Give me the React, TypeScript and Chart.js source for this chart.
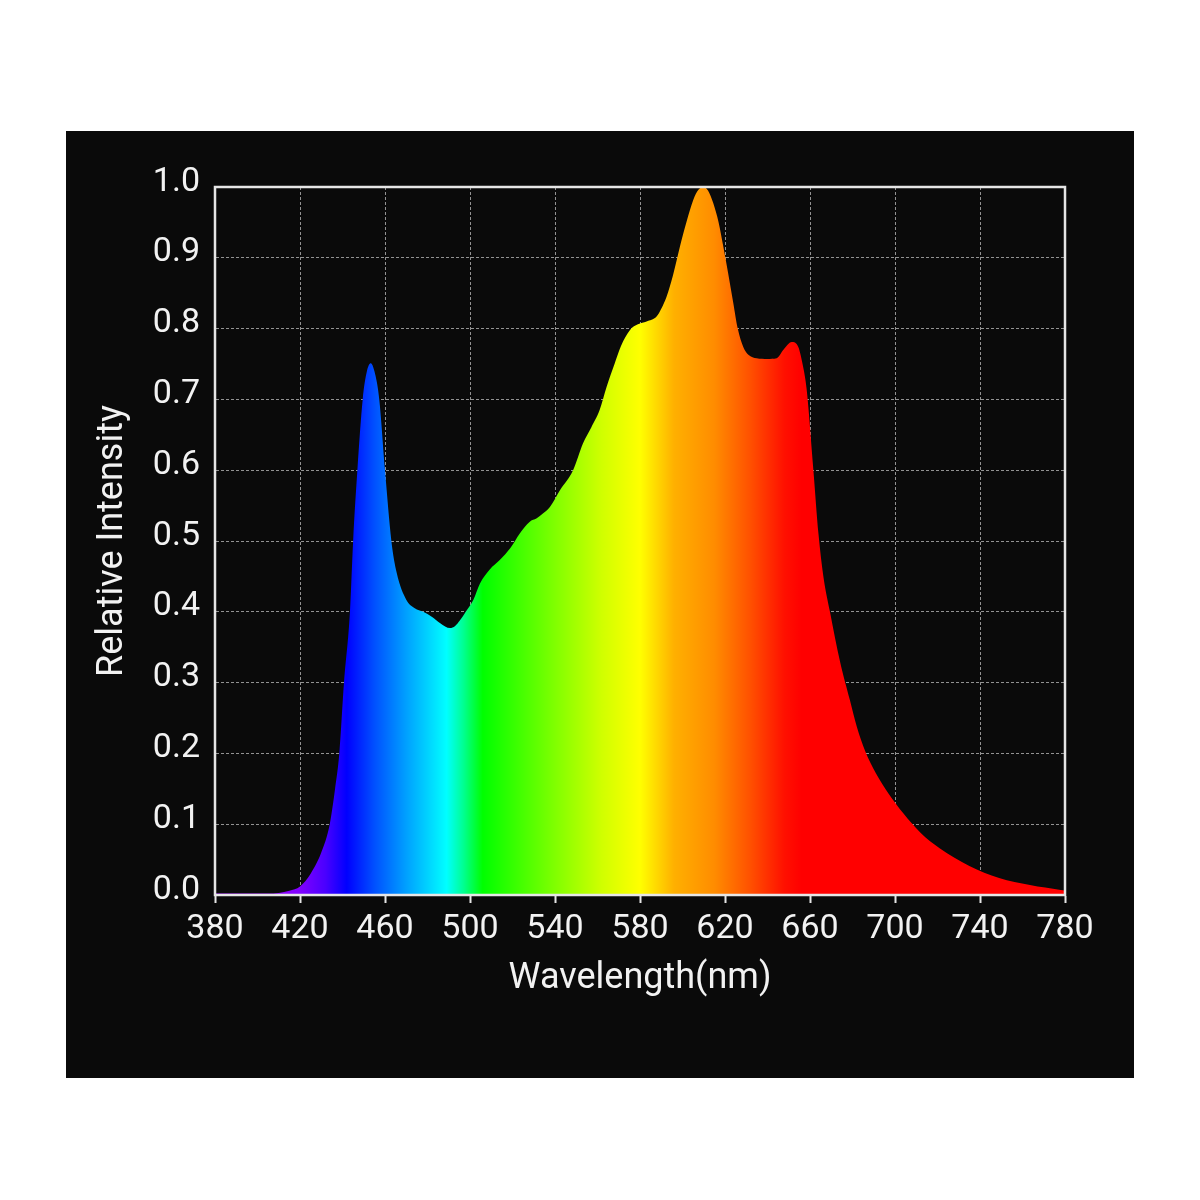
import React, { useEffect, useRef } from "react";
import { Chart, registerables } from "chart.js";

Chart.register(...registerables);

const wavelengths = [
  380, 390, 400, 410, 415, 420, 425, 430, 434, 436.5, 438.5, 440.7, 443.5, 445, 447, 449.5, 451.5, 453.3, 455, 457.3,
  460, 463, 465.5, 470, 474, 478, 482, 486, 490.6, 493, 495.3, 498, 501.6, 504.7, 509.4, 514, 519, 523.5, 528, 531.4,
  534, 537.6, 542.4, 548.5, 553.2, 557, 561, 564.3, 568, 571, 575.3, 579, 583.1, 587.8, 590, 592.5, 595.5, 598.8, 602,
  605.1, 607.5, 609.8, 612, 614.5, 617, 619.2, 621.5, 623.9, 626, 628.6, 631, 634.9, 640, 644.3, 647.5, 651.4, 654.5,
  656.5, 658.4, 661.6, 664, 666.3, 669.4, 674.1, 678.8, 682, 686, 691, 697, 704, 712, 721, 735, 749, 763.5, 778, 780,
];
const intensities = [
  0.002, 0.002, 0.002, 0.003, 0.006, 0.012, 0.03, 0.06, 0.1, 0.15, 0.2, 0.3, 0.4, 0.5, 0.6, 0.7, 0.74, 0.751, 0.74, 0.7,
  0.6, 0.5, 0.455, 0.417, 0.405, 0.4, 0.393, 0.384, 0.377, 0.38, 0.388, 0.4, 0.417, 0.44, 0.46, 0.473, 0.49, 0.511, 0.527, 0.532,
  0.538, 0.548, 0.572, 0.6, 0.638, 0.66, 0.685, 0.718, 0.75, 0.775, 0.798, 0.806, 0.81, 0.817, 0.828, 0.845, 0.875, 0.916, 0.952,
  0.982, 0.996, 1.0, 0.995, 0.977, 0.95, 0.916, 0.878, 0.836, 0.8, 0.774, 0.763, 0.758, 0.757, 0.758, 0.77, 0.781, 0.774,
  0.75, 0.715, 0.6, 0.51, 0.45, 0.4, 0.33, 0.275, 0.238, 0.203, 0.172, 0.143, 0.115, 0.088, 0.066, 0.041, 0.024, 0.014, 0.007, 0.006,
];

const xTickValues = [380, 420, 460, 500, 540, 580, 620, 660, 700, 740, 780];
const yTickValues = [0, 0.1, 0.2, 0.3, 0.4, 0.5, 0.6, 0.7, 0.8, 0.9, 1.0];

const spectrumStops: [number, string][] = [
  [400, "#9a00ff"],
  [420, "#8000ff"],
  [432, "#4a00ff"],
  [442, "#0000ff"],
  [455, "#0050ff"],
  [470, "#00a0ff"],
  [489, "#00ffff"],
  [497, "#00ff90"],
  [506, "#00ff00"],
  [540, "#80ff00"],
  [562, "#d0ff00"],
  [580, "#ffff00"],
  [596, "#ffb000"],
  [615, "#ff8c00"],
  [632, "#ff5000"],
  [648, "#ff1000"],
  [656, "#ff0000"],
  [780, "#ff0000"],
];

const TEXT = "#f2f2f2";
const FONT = "Roboto";

export default function App() {
  const ref = useRef<HTMLCanvasElement | null>(null);

  useEffect(() => {
    if (!ref.current) return;
    const framePlugin = {
      id: "frame",
      afterDraw(chart: any) {
        const { ctx, chartArea } = chart;
        ctx.save();
        ctx.strokeStyle = "#e6e6e6";
        ctx.lineWidth = 2.5;
        ctx.strokeRect(chartArea.left, chartArea.top, chartArea.right - chartArea.left, chartArea.bottom - chartArea.top);
        ctx.restore();
      },
    };
    const chart = new Chart(ref.current, {
      type: "line",
      data: {
        datasets: [
          {
            data: wavelengths.map((w, i) => ({ x: w, y: intensities[i] })),
            fill: "origin",
            borderWidth: 0,
            pointRadius: 0,
            cubicInterpolationMode: "monotone",
            backgroundColor: (c: any) => {
              const ch = c.chart;
              const area = ch.chartArea;
              if (!area) return "#ff0000";
              const xs = ch.scales.x;
              const x0 = xs.getPixelForValue(380);
              const x1 = xs.getPixelForValue(780);
              const g = ch.ctx.createLinearGradient(x0, 0, x1, 0);
              spectrumStops.forEach(([nm, col]) => g.addColorStop((nm - 380) / 400, col));
              return g;
            },
          } as any,
        ],
      },
      options: {
        animation: false,
        responsive: false,
        maintainAspectRatio: false,
        layout: { padding: { left: 25, right: 69, top: 56, bottom: 77 } },
        plugins: { legend: { display: false }, tooltip: { enabled: false } },
        scales: {
          x: {
            type: "linear",
            min: 380,
            max: 780,
            afterFit: (s: any) => {
              s.height = 106;
            },
            afterBuildTicks: (s: any) => {
              s.ticks = xTickValues.map((v) => ({ value: v }));
            },
            ticks: {
              color: TEXT,
              font: { family: FONT, size: 34 },
              padding: 6,
              maxRotation: 0,
              autoSkip: false,
            },
            grid: {
              color: "rgba(180,180,180,0.8)",
              lineWidth: 1,
              drawTicks: true,
              tickLength: 8,
              tickColor: "#e6e6e6",
              tickWidth: 2,
            },
            border: { display: true, color: "#e6e6e6", width: 2, dash: [3, 2] },
            title: {
              display: true,
              text: "Wavelength(nm)",
              color: TEXT,
              font: { family: FONT, size: 36 },
              padding: 0,
            },
          },
          y: {
            min: 0,
            max: 1,
            afterFit: (s: any) => {
              s.width = 124;
            },
            afterBuildTicks: (s: any) => {
              s.ticks = yTickValues.map((v) => ({ value: v }));
            },
            ticks: {
              color: TEXT,
              font: { family: FONT, size: 34 },
              padding: 15,
              labelOffset: -5,
              callback: (v: any) => Number(v).toFixed(1),
            },
            grid: {
              color: "rgba(180,180,180,0.8)",
              lineWidth: 1,
              drawTicks: false,
              tickLength: 0,
            },
            border: { display: true, color: "#e6e6e6", width: 2, dash: [3, 2] },
            title: {
              display: true,
              text: "Relative Intensity",
              color: TEXT,
              font: { family: FONT, size: 36 },
              padding: 0,
            },
          },
        },
      },
      plugins: [framePlugin],
    } as any);
    return () => chart.destroy();
  }, []);

  return (
    <div style={{ position: "absolute", left: 0, top: 0, width: 1200, height: 1200, background: "#ffffff" }}>
      <div style={{ position: "absolute", left: 66, top: 131, width: 1068, height: 947, background: "#0a0a0a" }}>
        <canvas ref={ref} width={1068} height={947} style={{ display: "block", width: 1068, height: 947 }} />
      </div>
    </div>
  );
}
